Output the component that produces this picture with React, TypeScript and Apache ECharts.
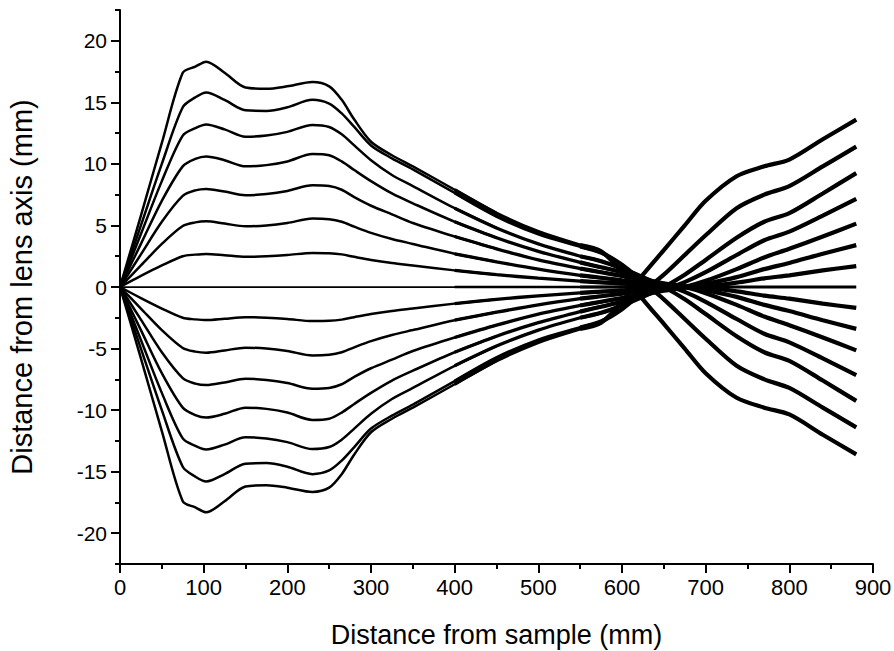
import React, { useEffect, useRef } from "react";
import * as echarts from "echarts";

// Sample positions along the column (mm)
const X = [0, 25, 50, 75, 90, 103, 125, 150, 175, 200, 230, 250, 265, 280, 300, 325, 350, 400, 450, 500, 550, 575, 600, 625, 650, 675, 700, 737, 770, 800, 840, 880];

// Rays leaving the sample upwards (mm from the lens axis)
const RAY_A_UP = [0, 5.8, 11.7, 17.4, 17.9, 18.3, 17.4, 16.2, 16.1, 16.3, 16.65, 16.3, 15.2, 13.6, 11.8, 10.7, 9.8, 7.9, 6.0, 4.5, 3.4, 2.9, 1.2, -1.0, -3.0, -5.0, -7.0, -9.0, -9.8, -10.35, -12.0, -13.6];
const RAY_B_UP = [0, 5.0, 10.0, 14.6, 15.4, 15.8, 15.2, 14.35, 14.3, 14.6, 15.2, 14.9, 14.1, 13.0, 11.5, 10.45, 9.55, 7.65, 5.75, 4.3, 3.3, 2.8, 1.8, 0.4, -1.0, -2.6, -4.2, -6.4, -7.5, -8.2, -9.8, -11.4];
const RAY_C_UP = [0, 4.3, 8.6, 12.3, 12.9, 13.2, 12.8, 12.2, 12.3, 12.6, 13.16, 13.0, 12.4, 11.5, 10.3, 9.1, 8.2, 6.4, 4.8, 3.5, 2.5, 2.1, 1.5, 0.8, 0.0, -1.0, -2.2, -4.0, -5.3, -6.0, -7.6, -9.25];
const RAY_D_UP = [0, 3.5, 7.0, 9.8, 10.4, 10.6, 10.3, 9.8, 9.9, 10.2, 10.8, 10.7, 10.2, 9.5, 8.6, 7.6, 6.8, 5.3, 4.0, 2.9, 2.0, 1.6, 1.2, 0.7, 0.2, -0.4, -1.2, -2.6, -3.8, -4.5, -5.8, -7.15];
const RAY_E_UP = [0, 2.65, 5.3, 7.4, 7.85, 7.97, 7.75, 7.45, 7.55, 7.8, 8.26, 8.2, 7.9, 7.3, 6.6, 5.9, 5.2, 4.1, 3.1, 2.2, 1.5, 1.2, 0.9, 0.6, 0.3, 0.0, -0.5, -1.45, -2.4, -3.1, -4.1, -5.15];
const RAY_F_UP = [0, 1.75, 3.5, 4.95, 5.25, 5.34, 5.15, 4.93, 5.0, 5.2, 5.56, 5.5, 5.3, 4.9, 4.4, 3.9, 3.5, 2.7, 2.05, 1.45, 0.95, 0.75, 0.55, 0.38, 0.2, 0.05, -0.25, -0.8, -1.45, -1.95, -2.7, -3.4];
const RAY_G_UP = [0, 0.9, 1.75, 2.5, 2.63, 2.69, 2.58, 2.45, 2.5, 2.6, 2.77, 2.75, 2.65, 2.45, 2.2, 1.95, 1.75, 1.35, 1.0, 0.72, 0.48, 0.38, 0.28, 0.2, 0.12, 0.05, -0.05, -0.35, -0.7, -0.95, -1.35, -1.7];
const RAY_AXIS = [0, 0, 0, 0, 0, 0, 0, 0, 0, 0, 0, 0, 0, 0, 0, 0, 0, 0, 0, 0, 0, 0, 0, 0, 0, 0, 0, 0, 0, 0, 0, 0];

// Rays leaving the sample downwards
const RAY_A_DN = [0, -5.8, -11.7, -17.4, -17.9, -18.3, -17.4, -16.2, -16.1, -16.3, -16.65, -16.3, -15.2, -13.6, -11.8, -10.7, -9.8, -7.9, -6.0, -4.5, -3.4, -2.9, -1.2, 1.0, 3.0, 5.0, 7.0, 9.0, 9.8, 10.35, 12.0, 13.6];
const RAY_B_DN = [0, -5.0, -10.0, -14.6, -15.4, -15.8, -15.2, -14.35, -14.3, -14.6, -15.2, -14.9, -14.1, -13.0, -11.5, -10.45, -9.55, -7.65, -5.75, -4.3, -3.3, -2.8, -1.8, -0.4, 1.0, 2.6, 4.2, 6.4, 7.5, 8.2, 9.8, 11.4];
const RAY_C_DN = [0, -4.3, -8.6, -12.3, -12.9, -13.2, -12.8, -12.2, -12.3, -12.6, -13.16, -13.0, -12.4, -11.5, -10.3, -9.1, -8.2, -6.4, -4.8, -3.5, -2.5, -2.1, -1.5, -0.8, 0.0, 1.0, 2.2, 4.0, 5.3, 6.0, 7.6, 9.25];
const RAY_D_DN = [0, -3.5, -7.0, -9.8, -10.4, -10.6, -10.3, -9.8, -9.9, -10.2, -10.8, -10.7, -10.2, -9.5, -8.6, -7.6, -6.8, -5.3, -4.0, -2.9, -2.0, -1.6, -1.2, -0.7, -0.2, 0.4, 1.2, 2.6, 3.8, 4.5, 5.8, 7.15];
const RAY_E_DN = [0, -2.65, -5.3, -7.4, -7.85, -7.97, -7.75, -7.45, -7.55, -7.8, -8.26, -8.2, -7.9, -7.3, -6.6, -5.9, -5.2, -4.1, -3.1, -2.2, -1.5, -1.2, -0.9, -0.6, -0.3, 0.0, 0.5, 1.45, 2.4, 3.1, 4.1, 5.15];
const RAY_F_DN = [0, -1.75, -3.5, -4.95, -5.25, -5.34, -5.15, -4.93, -5.0, -5.2, -5.56, -5.5, -5.3, -4.9, -4.4, -3.9, -3.5, -2.7, -2.05, -1.45, -0.95, -0.75, -0.55, -0.38, -0.2, -0.05, 0.25, 0.8, 1.45, 1.95, 2.7, 3.4];
const RAY_G_DN = [0, -0.9, -1.75, -2.5, -2.63, -2.69, -2.58, -2.45, -2.5, -2.6, -2.77, -2.75, -2.65, -2.45, -2.2, -1.95, -1.75, -1.35, -1.0, -0.72, -0.48, -0.38, -0.28, -0.2, -0.12, -0.05, 0.05, 0.35, 0.7, 0.95, 1.35, 1.7];

const RAYS = [RAY_A_UP, RAY_B_UP, RAY_C_UP, RAY_D_UP, RAY_E_UP, RAY_F_UP, RAY_G_UP, RAY_AXIS, RAY_G_DN, RAY_F_DN, RAY_E_DN, RAY_D_DN, RAY_C_DN, RAY_B_DN, RAY_A_DN];

// Stroke weight of the ray bundles along the column: [from x, to x, width]
const BUNDLE_PARTS: [number, number, number][] = [
  [0, 450, 2.5],
  [400, 600, 3.3],
  [550, 880, 4.2],
];

const Y_MAJOR_TICKS = [-20, -15, -10, -5, 0, 5, 10, 15, 20];
const Y_MINOR_TICKS = [-22.5, -17.5, -12.5, -7.5, -2.5, 2.5, 7.5, 12.5, 17.5, 22.5];

const X_TITLE = "Distance from sample (mm)";
const Y_TITLE = "Distance from lens axis (mm)";

const FONT = "'Liberation Sans', Arial, Helvetica, sans-serif";

export default function App() {
  const ref = useRef<HTMLDivElement>(null);
  useEffect(() => {
    if (!ref.current) return;
    const chart = echarts.init(ref.current, undefined, { renderer: "svg" });
    const series: any[] = [];
    RAYS.forEach((ray, k) => {
      const pts = X.map((x, i) => [x, ray[i]]);
      const isAxis = ray === RAY_AXIS;
      BUNDLE_PARTS.forEach(([from, to, w], j) => {
        series.push({
          type: "line",
          name: "ray" + k + "_" + j,
          data: pts.filter((p) => p[0] >= from && p[0] <= to),
          showSymbol: false,
          smooth: 0.3,
          lineStyle: { color: "#000", width: isAxis ? w * 0.7 : w },
          silent: true,
        });
      });
    });
    chart.setOption({
      animation: false,
      backgroundColor: "#fff",
      grid: { left: 120, right: 21, top: 10, bottom: 87, containLabel: false, outerBoundsMode: "none" },
      xAxis: {
        type: "value",
        min: 0,
        max: 900,
        interval: 100,
        axisLine: { show: true, onZero: false, lineStyle: { color: "#000", width: 2 } },
        axisTick: { show: true, inside: false, length: 9, lineStyle: { color: "#000", width: 2 } },
        minorTick: { show: true, splitNumber: 2, length: 5, lineStyle: { color: "#000", width: 2 } },
        splitLine: { show: false },
        minorSplitLine: { show: false },
        axisLabel: { color: "#000", fontSize: 22, fontFamily: FONT, margin: 12 },
        name: X_TITLE,
        nameLocation: "middle",
        nameGap: 57,
        nameTextStyle: { color: "#000", fontSize: 27, fontFamily: FONT },
      },
      yAxis: [
        {
          type: "value",
          min: -22.5,
          max: 22.5,
          position: "left",
          axisLine: { show: true, onZero: false, lineStyle: { color: "#000", width: 2 } },
          axisTick: { show: true, inside: false, length: 9, lineStyle: { color: "#000", width: 2 }, customValues: Y_MAJOR_TICKS },
          axisLabel: { color: "#000", fontSize: 21, fontFamily: FONT, margin: 13, customValues: Y_MAJOR_TICKS },
          splitLine: { show: false },
          name: Y_TITLE,
          nameLocation: "middle",
          nameGap: 84,
          nameTextStyle: { color: "#000", fontSize: 29, fontFamily: FONT },
        },
        {
          type: "value",
          min: -22.5,
          max: 22.5,
          position: "left",
          axisLine: { show: false },
          axisTick: { show: true, inside: false, length: 5, lineStyle: { color: "#000", width: 2 }, customValues: Y_MINOR_TICKS },
          axisLabel: { show: false },
          splitLine: { show: false },
        },
      ],
      series,
    });
    return () => chart.dispose();
  }, []);
  return (
    <div
      ref={ref}
      style={{ position: "fixed", left: 0, top: 0, width: 894, height: 651, background: "#fff" }}
    />
  );
}
